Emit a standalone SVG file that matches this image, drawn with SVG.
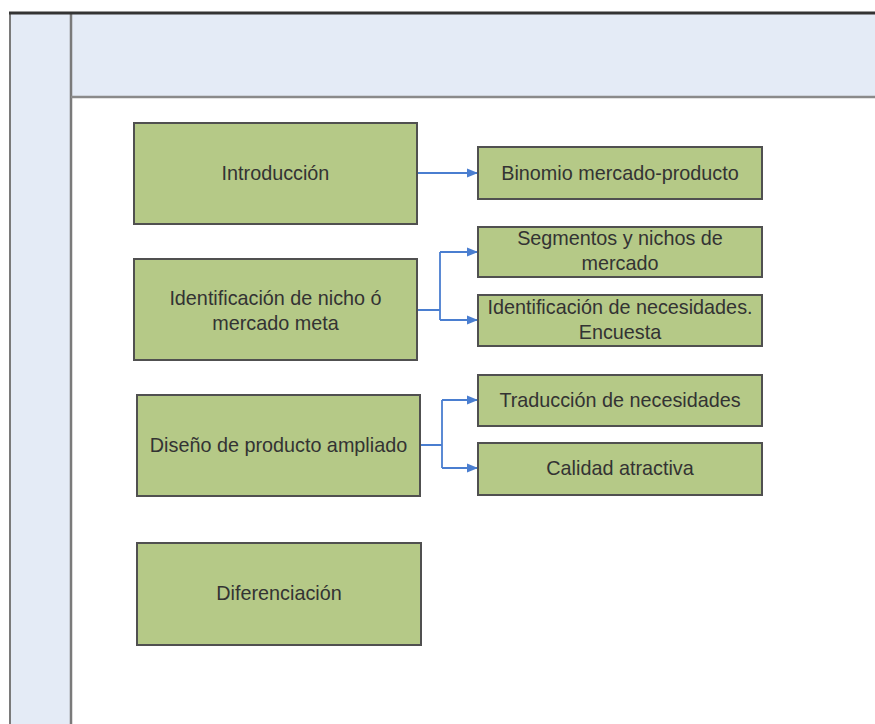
<svg xmlns="http://www.w3.org/2000/svg" width="875" height="724" viewBox="0 0 875 724">
<defs>
<marker id="arr" markerWidth="11" markerHeight="11" refX="10" refY="5.5" orient="auto" markerUnits="userSpaceOnUse">
<path d="M0,1 L11,5.5 L0,10 Z" fill="#4a7ed0"/>
</marker>
<style>
.box{fill:#b5c987;stroke:#505050;stroke-width:2}
.t{font-family:"Liberation Sans",Arial,sans-serif;font-size:19.8px;fill:#333;text-anchor:middle;dominant-baseline:central}
.c{fill:none;stroke:#4a7ed0;stroke-width:1.8}
</style>
</defs>
<rect x="0" y="0" width="875" height="724" fill="#fff"/>
<g id="pool">
<rect x="10" y="13" width="61" height="720" fill="#e4ebf6"/>
<rect x="71" y="13" width="810" height="84" fill="#e4ebf6"/>
<line x1="10" y1="13" x2="10" y2="724" stroke="#7a7a7a" stroke-width="2"/>
<line x1="71" y1="13" x2="71" y2="724" stroke="#7a7a7a" stroke-width="2.5"/>
<line x1="71" y1="97" x2="875" y2="97" stroke="#8a8a8a" stroke-width="2.5"/>
<line x1="9" y1="13" x2="875" y2="13" stroke="#333" stroke-width="3"/>
</g>
<g id="connectors">
<path class="c" d="M417,173 H477" marker-end="url(#arr)"/>
<path class="c" d="M417,310 H440 M440,252 V320"/>
<path class="c" d="M440,252 H477" marker-end="url(#arr)"/>
<path class="c" d="M440,320 H477" marker-end="url(#arr)"/>
<path class="c" d="M420,445 H442 M442,400 V468"/>
<path class="c" d="M442,400 H477" marker-end="url(#arr)"/>
<path class="c" d="M442,468 H477" marker-end="url(#arr)"/>
</g>
<g id="introduccion">
<rect class="box" x="134" y="123" width="283" height="101"/>
<text class="t" x="275.5" y="173">Introducción</text>
</g>
<g id="identificacion-nicho">
<rect class="box" x="134" y="259" width="283" height="101"/>
<text class="t" x="275.5" y="298">Identificación de nicho ó</text>
<text class="t" x="275.5" y="323">mercado meta</text>
</g>
<g id="diseno">
<rect class="box" x="137" y="395" width="283" height="101"/>
<text class="t" x="278.5" y="445">Diseño de producto ampliado</text>
</g>
<g id="diferenciacion">
<rect class="box" x="137" y="543" width="284" height="102"/>
<text class="t" x="279" y="593">Diferenciación</text>
</g>
<g id="binomio">
<rect class="box" x="478" y="147" width="284" height="52"/>
<text class="t" x="620" y="173">Binomio mercado-producto</text>
</g>
<g id="segmentos">
<rect class="box" x="478" y="227" width="284" height="50"/>
<text class="t" x="620" y="238">Segmentos y nichos de</text>
<text class="t" x="620" y="263">mercado</text>
</g>
<g id="identificacion-necesidades">
<rect class="box" x="478" y="295" width="284" height="51"/>
<text class="t" x="620" y="307">Identificación de necesidades.</text>
<text class="t" x="620" y="332">Encuesta</text>
</g>
<g id="traduccion">
<rect class="box" x="478" y="375" width="284" height="51"/>
<text class="t" x="620" y="400">Traducción de necesidades</text>
</g>
<g id="calidad">
<rect class="box" x="478" y="443" width="284" height="52"/>
<text class="t" x="620" y="468">Calidad atractiva</text>
</g>
</svg>
